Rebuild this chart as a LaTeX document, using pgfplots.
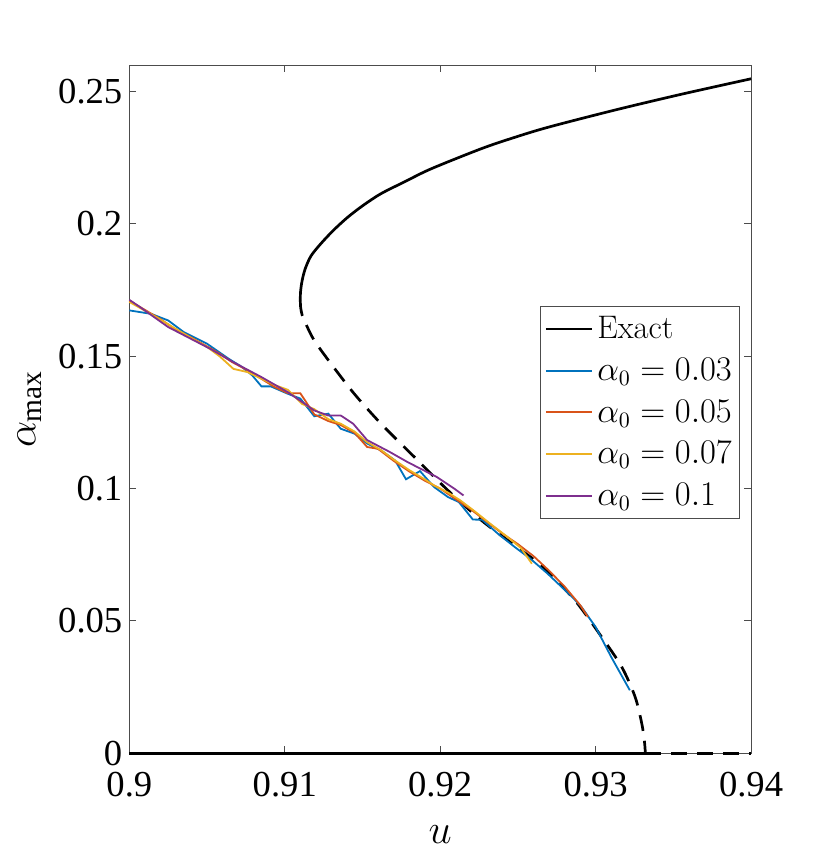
\documentclass[border=0pt]{standalone}
\usepackage{fontspec}
\setmainfont{Liberation Serif}
\newfontfamily\lmr{Latin Modern Roman}
\usepackage{pgfplots}
\pgfplotsset{compat=1.18}
\definecolor{matblue}{rgb}{0,0.447,0.741}
\definecolor{matred}{rgb}{0.85,0.325,0.098}
\definecolor{matyellow}{rgb}{0.929,0.694,0.125}
\definecolor{matpurple}{rgb}{0.494,0.184,0.556}
\definecolor{axgray}{rgb}{0.3,0.3,0.3}
\begin{document}
\begin{tikzpicture}
\begin{axis}[
  scale only axis, width=310.75pt, height=344pt,
  xmin=0.9, xmax=0.94, ymin=0, ymax=0.26,
  xtick={0.9,0.91,0.92,0.93,0.94},
  xticklabels={0.9,0.91,0.92,0.93,0.94},
  ytick={0,0.05,0.1,0.15,0.2,0.25},
  yticklabels={0,0.05,0.1,0.15,0.2,0.25},
  tick label style={font=\fontsize{18.3}{22}\selectfont},
  xticklabel style={yshift=-6pt},
  tick align=inside, major tick length=3.5pt,
  axis line style={draw=axgray, line width=0.5pt},
  every tick/.style={draw=axgray, line width=0.5pt},
  clip=false,
  xlabel={$u$}, ylabel={$\alpha_{\max}$},
  label style={font=\fontsize{21}{25}\selectfont},
  xlabel style={at={(axis description cs:0.5,-0.1304)}, anchor=base, inner sep=0pt},
  ylabel style={at={(axis description cs:-0.140,0.5)}, anchor=south, inner sep=0pt},
  legend style={at={(rel axis cs:0.9828,0.650)}, anchor=north east, draw=axgray,
    line width=0.5pt, fill=white, font=\fontsize{16.3}{19}\selectfont,
    inner xsep=2pt, inner ysep=3pt, row sep=4.2pt, nodes={inner sep=2pt}},
  legend cell align=left,
  legend image code/.code={\draw[#1] (0pt,0pt) -- (23pt,0pt);},
]
\addlegendimage{draw=black, line width=1.35pt}
\addlegendentry{\lmr Exact}
\addlegendimage{draw=matblue, line width=1.1pt}
\addlegendentry{$\alpha_0=0.03$}
\addlegendimage{draw={rgb,1:red,0.85;green,0.325;blue,0.098}, line width=1.1pt}
\addlegendentry{$\alpha_0=0.05$}
\addlegendimage{draw=matyellow, line width=1.1pt}
\addlegendentry{$\alpha_0=0.07$}
\addlegendimage{draw=matpurple, line width=1.1pt}
\addlegendentry{$\alpha_0=0.1$}
% Exact: upper (stable) branch
\addplot[black, line width=1.35pt, smooth, tension=0.5, forget plot] coordinates {
(0.91100,0.1712)(0.91101,0.1740)(0.91107,0.1770)(0.91117,0.1800)(0.91135,0.1836)
(0.91170,0.1880)(0.91232,0.1925)(0.91312,0.1975)(0.91405,0.2025)(0.91505,0.2070)
(0.91619,0.2114)(0.91775,0.2160)(0.91942,0.2208)(0.92265,0.2284)(0.92470,0.2325)
(0.92695,0.2365)(0.93125,0.2430)(0.93555,0.2490)(0.94000,0.2548)};
% Exact: lower (unstable) branch
\addplot[black, line width=1.35pt, smooth, tension=0.5, dash pattern=on 8pt off 5pt, forget plot] coordinates {
(0.91100,0.1712)(0.91102,0.1685)(0.91112,0.1655)(0.91135,0.1623)(0.91189,0.1560)
(0.91297,0.1472)(0.91447,0.1358)(0.91619,0.1245)(0.91834,0.1119)(0.92050,0.0993)
(0.92265,0.0880)(0.92479,0.0785)(0.92652,0.0708)(0.92866,0.0578)(0.93039,0.0439)
(0.93168,0.0326)(0.93254,0.0213)(0.93297,0.0112)(0.93314,0.0045)(0.93320,0)};
% Exact: zero branch
\addplot[black, line width=1.35pt, forget plot] coordinates {(0.9,0)(0.9332,0)};
\addplot[black, line width=1.35pt, dash pattern=on 8pt off 5pt, forget plot] coordinates {(0.9332,0)(0.94,0)};
% alpha0 = 0.03
\addplot[color=matblue, line width=0.9pt, forget plot] coordinates {
(0.9000,0.1673)(0.9014,0.1660)(0.9025,0.1635)(0.9035,0.1591)(0.9050,0.1547)
(0.9064,0.1490)(0.9072,0.1461)(0.9079,0.1428)(0.9085,0.1386)(0.9091,0.1386)
(0.9102,0.1358)(0.9110,0.1340)(0.9119,0.1273)(0.9128,0.1283)(0.9136,0.1226)
(0.9145,0.1207)(0.9153,0.1170)(0.9162,0.1144)(0.9171,0.1106)(0.9178,0.1035)
(0.9187,0.1066)(0.9196,0.1006)(0.9205,0.0968)(0.9212,0.0949)(0.9221,0.0883)
(0.9227,0.0882)(0.9237,0.0830)(0.9248,0.0779)(0.9258,0.0735)(0.9269,0.0679)
(0.9285,0.0590)(0.9291,0.0552)(0.9300,0.0477)(0.9310,0.0364)(0.9322,0.0238)};
% alpha0 = 0.05
\addplot[color=matred, line width=0.9pt, forget plot] coordinates {
(0.9000,0.1710)(0.9010,0.1675)(0.9020,0.1640)(0.9030,0.1600)(0.9040,0.1570)
(0.9050,0.1537)(0.9058,0.1510)(0.9066,0.1478)(0.9075,0.1450)(0.9084,0.1418)
(0.9093,0.1385)(0.9102,0.1360)(0.9110,0.1360)(0.9119,0.1280)(0.9128,0.1255)
(0.9136,0.1240)(0.9145,0.1210)(0.9153,0.1157)(0.9160,0.1150)(0.9170,0.1105)
(0.9180,0.1065)(0.9190,0.1030)(0.9200,0.1000)(0.9210,0.0960)(0.9220,0.0920)
(0.9230,0.0875)(0.9240,0.0830)(0.9250,0.0790)(0.9260,0.0745)(0.9270,0.0690)
(0.9280,0.0630)(0.9290,0.0560)(0.9295,0.0515)};
% alpha0 = 0.07
\addplot[color=matyellow, line width=0.9pt, forget plot] coordinates {
(0.9000,0.1705)(0.9010,0.1672)(0.9020,0.1638)(0.9030,0.1603)(0.9040,0.1568)
(0.9050,0.1535)(0.9058,0.1500)(0.9067,0.1452)(0.9076,0.1440)(0.9085,0.1415)
(0.9094,0.1390)(0.9102,0.1373)(0.9111,0.1320)(0.9119,0.1300)(0.9128,0.1262)
(0.9136,0.1245)(0.9145,0.1215)(0.9153,0.1175)(0.9162,0.1145)(0.9170,0.1110)
(0.9180,0.1070)(0.9190,0.1035)(0.9196,0.1012)(0.9205,0.0985)(0.9213,0.0955)
(0.9222,0.0915)(0.9232,0.0868)(0.9242,0.0823)(0.9252,0.0775)(0.9259,0.0716)};
% alpha0 = 0.1
\addplot[color=matpurple, line width=0.9pt, forget plot] coordinates {
(0.9000,0.1713)(0.9007,0.1685)(0.9025,0.1610)(0.9052,0.1528)(0.9067,0.1477)
(0.9085,0.1421)(0.9102,0.1364)(0.9119,0.1295)(0.9128,0.1276)(0.9136,0.1276)
(0.9144,0.1245)(0.9153,0.1183)(0.9167,0.1140)(0.9179,0.1100)(0.9198,0.1043)
(0.9209,0.1000)(0.9215,0.0974)};
\end{axis}
\pgfresetboundingbox
\useasboundingbox ([xshift=-64.65pt,yshift=-51.85pt]current axis.south west) rectangle ([xshift=39.5pt,yshift=32.5pt]current axis.north east);
\end{tikzpicture}
\end{document}
